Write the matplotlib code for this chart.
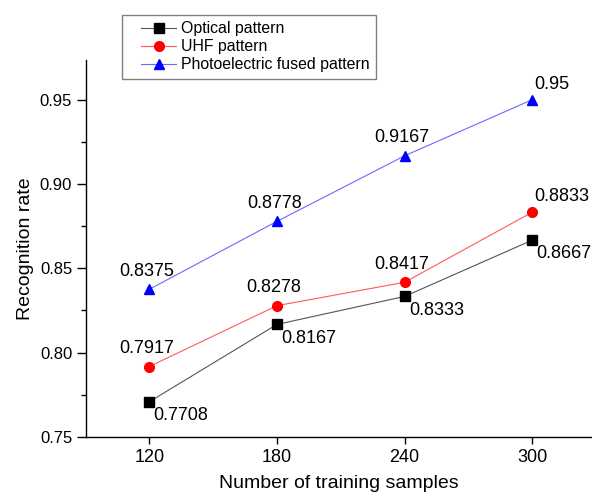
import matplotlib.pyplot as plt
from matplotlib.lines import Line2D
from matplotlib.legend_handler import HandlerLine2D
from matplotlib.ticker import MultipleLocator, FormatStrFormatter

plt.rcParams['font.family'] = ['Liberation Sans', 'DejaVu Sans']

# data
samples = [120, 180, 240, 300]
optical = [0.7708, 0.8167, 0.8333, 0.8667]
uhf = [0.7917, 0.8278, 0.8417, 0.8833]
fused = [0.8375, 0.8778, 0.9167, 0.95]
labels = ['Optical pattern', 'UHF pattern', 'Photoelectric fused pattern']

fig = plt.figure(figsize=(5.92, 4.95), dpi=100)
ax = fig.add_axes([0.1453, 0.1174, 0.8547, 0.7614])

# series: values, line colour, marker colour, marker, size, label placement
series = [
    (optical, '#555555', 'black', 's', 6.5, 'below'),
    (uhf, '#ff5a5a', 'red', 'o', 7, 'above'),
    (fused, '#6a6aff', 'blue', '^', 7.5, 'above'),
]

for (vals, lc, mc, mk, ms, where), lab in zip(series, labels):
    ax.plot(samples, vals, color=lc, lw=0.8, marker=mk, ms=ms,
            mfc=mc, mec=mc, label=lab)
    for i, (x, y) in enumerate(zip(samples, vals)):
        txt = f'{y:g}'
        if where == 'below':
            ax.annotate(txt, (x, y), xytext=(3, -10), textcoords='offset points',
                        ha='left', va='center', fontsize=13)
        elif i == len(vals) - 1:
            ax.annotate(txt, (x, y), xytext=(1, 11), textcoords='offset points',
                        ha='left', va='center', fontsize=13)
        else:
            ax.annotate(txt, (x, y), xytext=(-2, 13), textcoords='offset points',
                        ha='center', va='center', fontsize=13)

ax.set_xlim(90.3, 328)
ax.set_ylim(0.75, 0.9735)
ax.set_xticks(samples)
ax.yaxis.set_major_locator(MultipleLocator(0.05))
ax.yaxis.set_minor_locator(MultipleLocator(0.025))
ax.yaxis.set_major_formatter(FormatStrFormatter('%.2f'))

for s in ['top', 'right']:
    ax.spines[s].set_visible(False)
for s in ['left', 'bottom']:
    ax.spines[s].set_linewidth(1.0)

ax.tick_params(axis='y', which='major', direction='out', length=6.5, width=1, labelsize=12)
ax.tick_params(axis='y', which='minor', direction='out', length=3.5, width=1)
ax.tick_params(axis='x', which='major', direction='out', length=5, width=1, labelsize=13)

ax.set_xlabel('Number of training samples', fontsize=14, labelpad=7)
ax.set_ylabel('Recognition rate', fontsize=14, labelpad=4)

leg = ax.legend(loc='upper left', bbox_to_anchor=(122.3 / 592, 1 - 14.7 / 495),
                bbox_transform=fig.transFigure, borderaxespad=0, fontsize=11.4,
                frameon=True, fancybox=False, edgecolor='#808080', framealpha=1,
                handlelength=2.98, handletextpad=0.32, labelspacing=0.18,
                borderpad=0.42, handler_map={Line2D: HandlerLine2D(xpad=0.77)})
leg.get_frame().set_linewidth(1.0)

fig.savefig('out.png', dpi=100)
